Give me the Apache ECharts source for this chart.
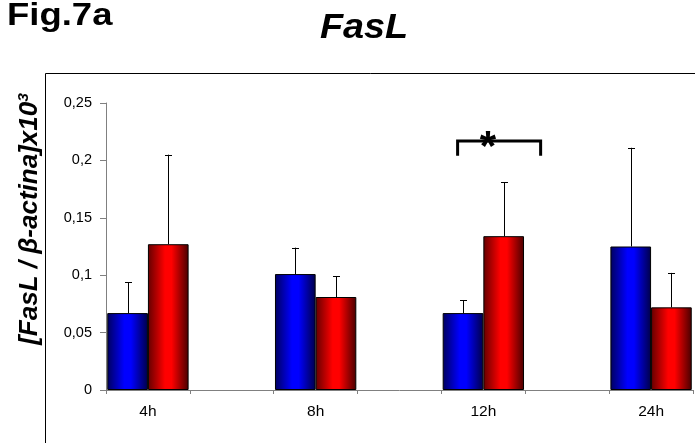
<!DOCTYPE html>
<html>
<head>
<meta charset="utf-8">
<script src="https://cdn.jsdelivr.net/npm/echarts@6/dist/echarts.min.js"></script>
<style>
  html, body { margin: 0; padding: 0; background: #ffffff; }
  #chart { width: 695px; height: 443px; }
</style>
</head>
<body>
<div id="chart"></div>
<script>
// FasL expression relative to beta-actin, two groups per time point (mean + upper SD)
const timePoints = ['4h', '8h', '12h', '24h'];
const blueMeans  = [0.067, 0.101, 0.067, 0.125];
const blueErrors = [0.027, 0.023, 0.011, 0.086];
const redMeans   = [0.127, 0.081, 0.134, 0.072];
const redErrors  = [0.078, 0.018, 0.047, 0.030];
const yTickValues = [0, 0.05, 0.1, 0.15, 0.2, 0.25];
// significance bracket at 12h (value-axis heights of bar and feet)
const sigTime = '12h';
const sigTop = 0.217;
const sigFoot = 0.204;

const FONT = '"Liberation Sans", Arial, sans-serif';

// Time points sit in every other slot of the category axis, blank slots between them
const slots = [];
timePoints.forEach((t, i) => { if (i > 0) slots.push(''); slots.push(t); });
const slotOf = t => slots.indexOf(t);
const toSlots = arr => slots.map(s => (s === '' ? '-' : arr[timePoints.indexOf(s)]));

const BAR_GAP_RATIO = 0.97; // share of the band filled by the pair of bars

function gradient(dark1, bright, dark2) {
  return {
    type: 'linear', x: 0, y: 0, x2: 1, y2: 0,
    colorStops: [
      { offset: 0, color: dark1 },
      { offset: 0.42, color: bright },
      { offset: 0.58, color: bright },
      { offset: 1, color: dark2 }
    ]
  };
}

function errorBars(side) {
  return function (params, api) {
    const slot = api.value(0), mean = api.value(1), err = api.value(2);
    const band = api.size([1, 0])[0];
    const dx = side * band * BAR_GAP_RATIO / 4;
    const base = api.coord([slot, mean]);
    const tip = api.coord([slot, mean + err]);
    const x = Math.round(base[0] + dx) + 0.5;
    const half = 3.5;
    return {
      type: 'group',
      children: [
        { type: 'line', shape: { x1: x, y1: base[1], x2: x, y2: tip[1] }, style: { stroke: '#000', lineWidth: 1 } },
        { type: 'line', shape: { x1: x - half, y1: Math.round(tip[1]) + 0.5, x2: x + half, y2: Math.round(tip[1]) + 0.5 }, style: { stroke: '#000', lineWidth: 1 } }
      ]
    };
  };
}

function sigBracket(params, api) {
  const slot = api.value(0);
  const band = api.size([1, 0])[0];
  const top = api.coord([slot, api.value(1)]);
  const foot = api.coord([slot, api.value(2)]);
  const xl = top[0] - 0.307 * band;
  const xr = top[0] + 0.683 * band;
  return {
    type: 'group',
    children: [
      {
        type: 'polyline',
        shape: { points: [[xl, foot[1]], [xl, top[1]], [xr, top[1]], [xr, foot[1]]] },
        style: { stroke: '#000', lineWidth: 3, fill: null, lineJoin: 'miter' }
      },
      {
        type: 'text',
        x: top[0] + 0.055 * band,
        y: top[1] + 8,
        style: {
          text: '*', fill: '#000',
          font: 'bold 42px ' + FONT,
          textAlign: 'center', textVerticalAlign: 'middle'
        }
      }
    ]
  };
}

const chart = echarts.init(document.getElementById('chart'));
chart.setOption({
  animation: false,
  backgroundColor: '#ffffff',
  grid: { left: 106, right: 2, top: 103, bottom: 53 },
  xAxis: {
    type: 'category',
    data: slots,
    axisLine: { lineStyle: { color: '#808080', width: 1 } },
    axisTick: { show: true, interval: 0, length: 4, lineStyle: { color: '#808080' } },
    axisLabel: { interval: 0, margin: 14, color: '#000', fontSize: 15.5, fontFamily: FONT }
  },
  yAxis: {
    type: 'value',
    min: 0, max: 0.25, interval: 0.05,
    splitLine: { show: false },
    axisLine: { show: true, lineStyle: { color: '#808080', width: 1 } },
    axisTick: { show: true, length: 6, lineStyle: { color: '#808080' } },
    axisLabel: {
      margin: 14, color: '#000', fontSize: 14.5, fontFamily: FONT,
      formatter: v => {
        const t = yTickValues.find(k => Math.abs(k - v) < 1e-9);
        return String(t === undefined ? v : t).replace('.', ',');
      }
    }
  },
  series: [
    {
      type: 'bar', name: 'blue',
      data: toSlots(blueMeans),
      barGap: '0%', barCategoryGap: '3%',
      itemStyle: { color: gradient('#00005e', '#0000ff', '#000048'), borderColor: '#000', borderWidth: 1 }
    },
    {
      type: 'bar', name: 'red',
      data: toSlots(redMeans),
      barGap: '0%', barCategoryGap: '3%',
      itemStyle: { color: gradient('#640000', '#ff0000', '#480000'), borderColor: '#000', borderWidth: 1 }
    },
    {
      type: 'custom', name: 'blue SD',
      renderItem: errorBars(-1),
      encode: { x: 0, y: 1 },
      data: timePoints.map((t, i) => [slotOf(t), blueMeans[i], blueErrors[i]]),
      z: 5
    },
    {
      type: 'custom', name: 'red SD',
      renderItem: errorBars(1),
      encode: { x: 0, y: 1 },
      data: timePoints.map((t, i) => [slotOf(t), redMeans[i], redErrors[i]]),
      z: 5
    },
    {
      type: 'custom', name: 'significance',
      renderItem: sigBracket,
      encode: { x: 0, y: 1 },
      data: [[slotOf(sigTime), sigTop, sigFoot]],
      z: 6
    }
  ],
  graphic: [
    {
      type: 'rect',
      shape: { x: 45.5, y: 73.5, width: 700, height: 420 },
      style: { fill: null, stroke: '#000', lineWidth: 1 },
      silent: true
    },
    {
      type: 'text', x: 7, y: 16, scaleX: 1.14,
      style: { text: 'Fig.7a', fill: '#000', font: 'bold 32px ' + FONT, textAlign: 'left', textVerticalAlign: 'middle' }
    },
    {
      type: 'text', x: 364, y: 28, scaleX: 1.08,
      style: { text: 'FasL', fill: '#000', font: 'italic bold 35px ' + FONT, textAlign: 'center', textVerticalAlign: 'middle' }
    },
    {
      type: 'text', x: 30, y: 219, rotation: Math.PI / 2, scaleX: 1.04,
      style: {
        text: '{m|[FasL / \u03b2-actina]x10}{s|3}',
        fill: '#000',
        textAlign: 'center', textVerticalAlign: 'middle',
        rich: {
          m: { fontFamily: FONT, fontStyle: 'italic', fontWeight: 'bold', fontSize: 25, lineHeight: 28 },
          s: { fontFamily: FONT, fontStyle: 'italic', fontWeight: 'bold', fontSize: 15, lineHeight: 15, verticalAlign: 'top' }
        }
      }
    }
  ]
});
</script>
</body>
</html>
